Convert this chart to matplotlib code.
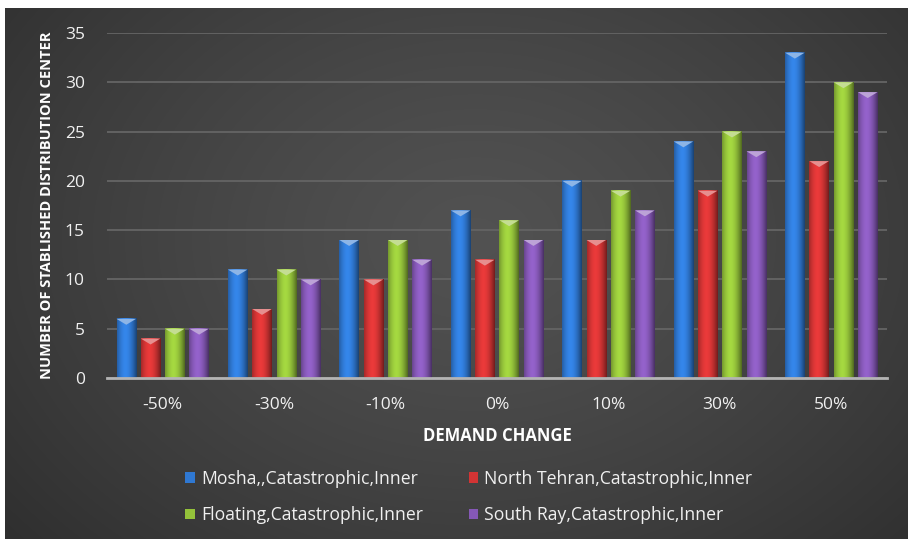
import numpy as np
import matplotlib
matplotlib.use("Agg")
import matplotlib.pyplot as plt
from matplotlib.patches import Patch, Polygon
from matplotlib.colors import to_rgb

# Data
categories = ["-50%", "-30%", "-10%", "0%", "10%", "30%", "50%"]
series_names = [
    "Mosha,,Catastrophic,Inner",
    "North Tehran,Catastrophic,Inner",
    "Floating,Catastrophic,Inner",
    "South Ray,Catastrophic,Inner",
]
mosha = [6, 11, 14, 17, 20, 24, 33]
north_tehran = [4, 7, 10, 12, 14, 19, 22]
floating = [5, 11, 14, 16, 19, 25, 30]
south_ray = [5, 10, 12, 14, 17, 23, 29]
series_values = [mosha, north_tehran, floating, south_ray]
y_ticks = [0, 5, 10, 15, 20, 25, 30, 35]

colors = ["#2f78d2", "#d23434", "#94c23a", "#8558b6"]

plt.rcParams["font.family"] = ["Open Sans", "DejaVu Sans"]

W, H = 908, 539
fig = plt.figure(figsize=(W / 100, H / 100), dpi=100)
fig.patch.set_facecolor("white")

# Dark radial-gradient backdrop
bg = fig.add_axes([5 / W, 0, (W - 5) / W, (H - 8) / H])
bg.set_axis_off()
gy, gx = np.mgrid[0:531, 0:903]
cx, cy = 470, 230
r = np.sqrt(((gx - cx) / 560.0) ** 2 + ((gy - cy) / 420.0) ** 2)
val = 0.32 - 0.16 * np.clip(r, 0, 1.25) ** 1.3 / 1.25 ** 1.3
img = np.dstack([val, val, val])
bg.imshow(img, aspect="auto", extent=[0, 1, 0, 1], origin="upper")
bg.set_xlim(0, 1)
bg.set_ylim(0, 1)

# Plot area
ax = fig.add_axes([107 / W, (H - 378) / H, 780 / W, 345 / H])
ax.patch.set_alpha(0)

n = len(series_values)
step = 0.218
width = 0.175
bevel = 0.6
xs = np.arange(len(categories))

prof_x = np.linspace(-1, 1, 64)
profile = 1.12 - 0.45 * np.abs(prof_x + 0.15) ** 1.8

for i, (vals, col) in enumerate(zip(series_values, colors)):
    base = np.array(to_rgb(col))
    grad = np.clip(profile[:, None] * base[None, :], 0, 1)[None, :, :]
    light = np.clip(base + (1 - base) * 0.45, 0, 1)
    for j, v in enumerate(vals):
        xc = xs[j] + (i - (n - 1) / 2) * step
        x0, x1 = xc - width / 2, xc + width / 2
        ax.imshow(grad, extent=[x0, x1, 0, v], aspect="auto",
                  origin="lower", zorder=3, interpolation="bilinear")
        ax.add_patch(Polygon([[x0, v], [x1, v], [xc, v - bevel]],
                             closed=True, facecolor=light, edgecolor="none",
                             zorder=4))

ax.set_xlim(-0.5, len(categories) - 0.5)
ax.set_ylim(0, 35)
ax.set_yticks(y_ticks)
ax.set_xticks(xs)
ax.set_xticklabels(categories)
ax.yaxis.grid(True, color="#626262", linewidth=1.4)
ax.set_axisbelow(True)
for s in ["top", "right", "left"]:
    ax.spines[s].set_visible(False)
ax.spines["bottom"].set_color("#b4b4b4")
ax.spines["bottom"].set_linewidth(2)
ax.spines["bottom"].set_zorder(5)
ax.tick_params(axis="both", length=0, colors="#f0f0f0", labelsize=12.5)
ax.tick_params(axis="y", pad=16)
ax.tick_params(axis="x", pad=14)

ax.set_ylabel("NUMBER OF STABLISHED DISTRIBUTION CENTER", color="white",
              fontsize=10.5, fontweight="bold", labelpad=8)
ax.set_xlabel("DEMAND CHANGE", color="white", fontsize=12,
              fontweight="bold", labelpad=10)

handles = [Patch(facecolor=c, edgecolor="none") for c in colors]
order = [0, 2, 1, 3]
leg = fig.legend([handles[k] for k in order], [series_names[k] for k in order],
                 ncol=2, loc="center", bbox_to_anchor=(469 / W, 1 - 497 / H),
                 frameon=False, fontsize=12.7, handlelength=0.55,
                 handleheight=0.55, handletextpad=0.35, columnspacing=2.57,
                 labelspacing=1.05)
for t in leg.get_texts():
    t.set_color("#f0f0f0")

fig.savefig("out.png", dpi=100, facecolor=fig.get_facecolor())
